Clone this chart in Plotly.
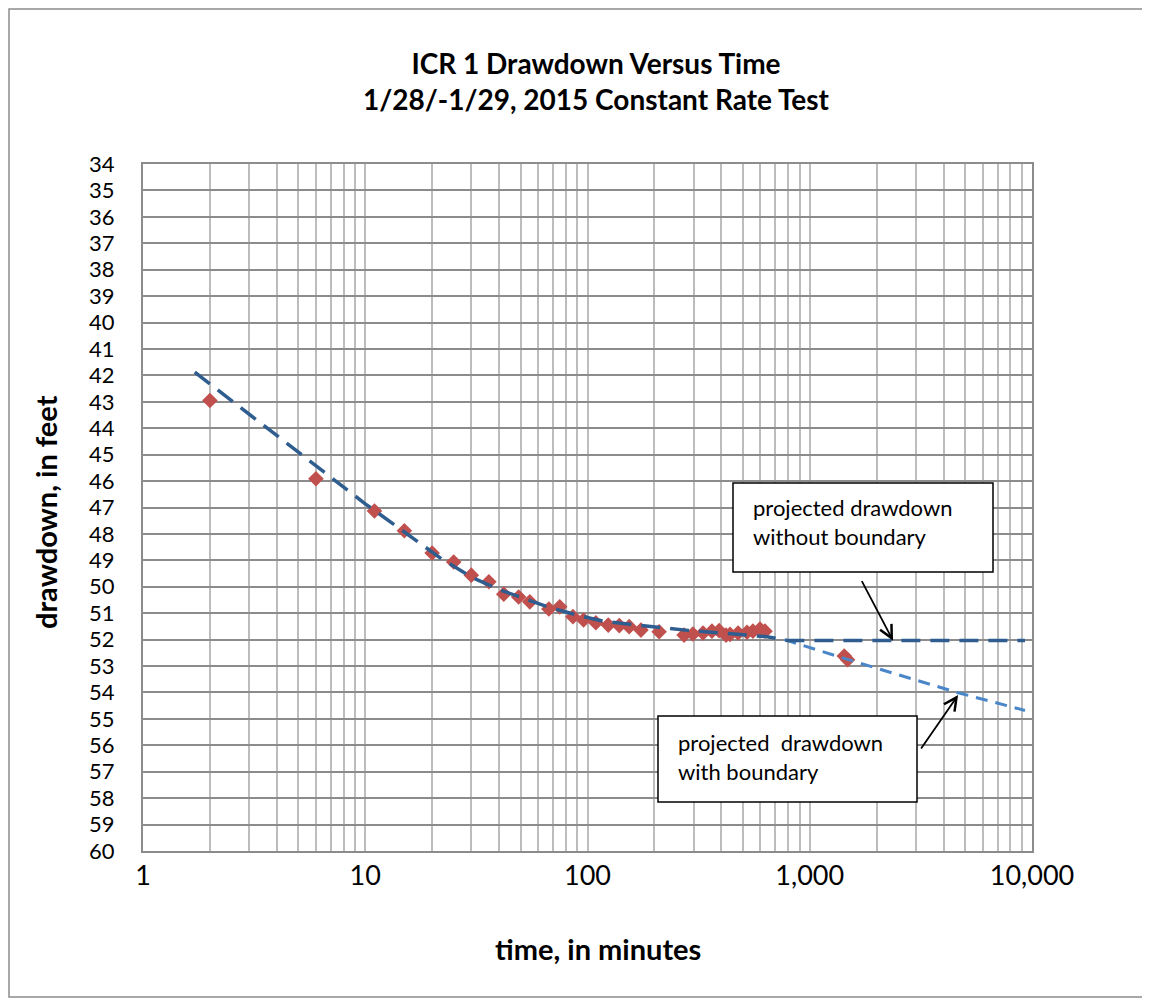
import plotly.graph_objects as go
import math

# ---------------- data ----------------
time_min = [2, 6, 11, 15, 20, 25, 30, 36, 42, 49, 55, 67, 75, 86, 96, 109, 124, 139,
            154, 174, 210, 272, 298, 331, 363, 391, 420, 438, 476, 522, 555, 597, 629,
            1430, 1480]
drawdown_ft = [42.95, 45.91, 47.13, 47.88, 48.72, 49.06, 49.56, 49.81, 50.28, 50.39,
               50.57, 50.84, 50.76, 51.13, 51.26, 51.36, 51.45, 51.47, 51.51, 51.64,
               51.70, 51.83, 51.79, 51.75, 51.68, 51.66, 51.83, 51.80, 51.75, 51.72,
               51.68, 51.60, 51.68, 52.62, 52.76]

no_boundary_time = [1.71, 10, 22.1, 30.5, 40.4, 52.4, 67.8, 89.7, 117.5, 155, 212, 283,
                    383, 643, 790, 9300]
no_boundary_dd = [41.88, 46.86, 48.95, 49.66, 50.12, 50.46, 50.79, 51.07, 51.30, 51.42,
                  51.55, 51.65, 51.74, 51.89, 52.03, 52.03]

boundary_time = [770, 1440, 4600, 9300]
boundary_dd = [52.0, 52.72, 54.0, 54.68]

x_mult = [m for k in range(4) for m in range(1, 10)] + [1]
x_tick_vals = [m * 10 ** k for k in range(4) for m in range(1, 10)] + [10000]
x_tick_text = [f"{v:,}" if m == 1 else "" for v, m in zip(x_tick_vals, x_mult)]
y_tick_vals = list(range(34, 61))

# ---------------- layout geometry (screen pixels; page body has an 8px margin) ----------------
OFF = 8
W, H = 1150 - OFF, 1004 - OFF
L, R, T, B = 143 - OFF, 1032 - OFF, 164 - OFF, 851 - OFF


def px(X):
    return (X - OFF - L) / (R - L)


def py(Y):
    return (B - (Y - OFF)) / (B - T)


FONT = "Lato"

fig = go.Figure()
fig.add_trace(go.Scatter(
    x=time_min, y=drawdown_ft, mode="markers",
    marker=dict(symbol="diamond", size=12, color="#C0504D"),
    showlegend=False))
fig.add_trace(go.Scatter(
    x=boundary_time, y=boundary_dd, mode="lines",
    line=dict(color="#4A86C8", width=3, dash="12px,8px"), showlegend=False))
fig.add_trace(go.Scatter(
    x=no_boundary_time, y=no_boundary_dd, mode="lines",
    line=dict(color="#2F5D8F", width=3.5, dash="19px,10px"), showlegend=False))

fig.update_layout(
    width=W, height=H,
    margin=dict(l=L, r=W - R, t=T, b=H - B, pad=0),
    paper_bgcolor="white", plot_bgcolor="white",
    font=dict(family=FONT, color="black"),
    title=dict(text="<b>ICR 1 Drawdown Versus Time<br>1/28/-1/29, 2015 Constant Rate Test</b>",
               x=(596 - OFF) / W, xref="container", xanchor="center",
               y=1 - 66 / H, yref="container", yanchor="middle",
               font=dict(size=28, family=FONT, color="black")),
    xaxis=dict(type="log", range=[0, 4], tickmode="array", tickvals=x_tick_vals,
               ticktext=x_tick_text, showgrid=True, gridcolor="#BDBDBD", gridwidth=1.5,
               showline=True, linecolor="#8C8C8C", linewidth=2, mirror=True,
               ticks="", tickfont=dict(size=27, family=FONT), zeroline=False),
    yaxis=dict(range=[60, 34], tickmode="array", tickvals=y_tick_vals,
               showgrid=True, gridcolor="#8C8C8C", gridwidth=1.5,
               showline=True, linecolor="#8C8C8C", linewidth=2, mirror=True,
               ticks="", tickfont=dict(size=22, family=FONT), ticklabelstandoff=22,
               zeroline=False),
)

annotations = [
    dict(text="<b>drawdown, in feet</b>", x=px(45), y=py(512), xref="paper", yref="paper",
         showarrow=False, textangle=-90, font=dict(size=29, family=FONT),
         xanchor="center", yanchor="middle"),
    dict(text="<b>time, in minutes</b>", x=px(598), y=py(948), xref="paper", yref="paper",
         showarrow=False, font=dict(size=29, family=FONT), xanchor="center", yanchor="middle"),
    dict(text="projected drawdown<br>without boundary", x=px(751), y=py(522), xref="paper",
         yref="paper", showarrow=False, align="left", xanchor="left", yanchor="middle",
         font=dict(size=22, family=FONT)),
    dict(text="projected  drawdown<br>with boundary", x=px(676), y=py(757), xref="paper",
         yref="paper", showarrow=False, align="left", xanchor="left", yanchor="middle",
         font=dict(size=22, family=FONT)),
    # arrows
    dict(x=math.log10(2370), y=52.04, xref="x", yref="y", ax=-32, ay=-61, text="",
         showarrow=True, arrowhead=5, arrowsize=1.4, arrowwidth=1.8, arrowcolor="black"),
    dict(x=math.log10(4650), y=54.10, xref="x", yref="y", ax=-38, ay=55, text="",
         showarrow=True, arrowhead=5, arrowsize=1.4, arrowwidth=1.8, arrowcolor="black"),
]
fig.update_layout(annotations=annotations)

shapes = [
    dict(type="rect", xref="paper", yref="paper", x0=px(733), x1=px(993), y0=py(572),
         y1=py(483), line=dict(color="black", width=1.5), fillcolor="white", layer="above"),
    dict(type="rect", xref="paper", yref="paper", x0=px(658), x1=px(917), y0=py(802),
         y1=py(716), line=dict(color="black", width=1.5), fillcolor="white", layer="above"),
    dict(type="rect", xref="paper", yref="paper", x0=px(OFF + 1), x1=px(1145), y0=py(997),
         y1=py(OFF + 1), line=dict(color="#8C8C8C", width=1.5), fillcolor="rgba(0,0,0,0)",
         layer="below"),
]
fig.update_layout(shapes=shapes)

fig.write_html("out.html")
